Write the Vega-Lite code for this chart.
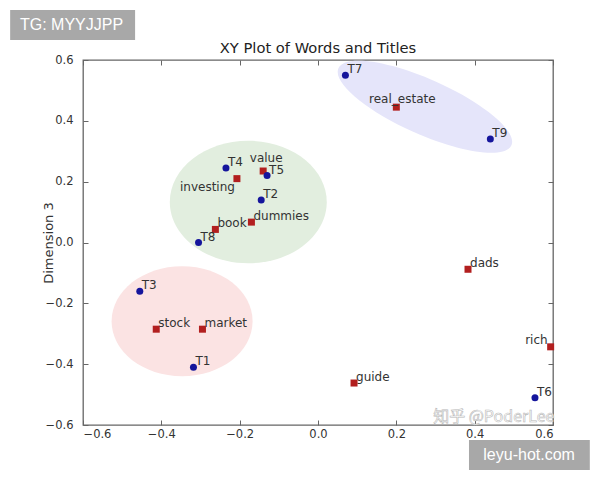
{
  "$schema": "https://vega.github.io/schema/vega-lite/v6.json",
  "width": 470,
  "height": 365,
  "autosize": "none",
  "padding": {"left": 83, "top": 60, "right": 47, "bottom": 55},
  "background": "white",
  "title": {"text": "XY Plot of Words and Titles", "font": "DejaVu Sans", "fontSize": 14.7, "fontWeight": "normal", "color": "#222222", "anchor": "middle", "frame": "group", "baseline": "alphabetic", "offset": 7, "dy": 65},
  "config": {
    "font": "DejaVu Sans",
    "view": {"stroke": "#666666", "strokeWidth": 1.3},
    "axis": {"grid": false, "domain": false, "tickColor": "#666666", "tickWidth": 1, "tickSize": -5, "labelColor": "#333333", "labelFont": "DejaVu Sans", "labelFontSize": 11.5, "titleFont": "DejaVu Sans", "titleFontSize": 13, "titleFontWeight": "normal", "titleColor": "#333333"}
  },
  "datasets": {
    "points": [
      {"label": "T1", "kind": "title", "x": -0.318, "y": -0.41},
      {"label": "T2", "kind": "title", "x": -0.145, "y": 0.14},
      {"label": "T3", "kind": "title", "x": -0.455, "y": -0.16},
      {"label": "T4", "kind": "title", "x": -0.235, "y": 0.245},
      {"label": "T5", "kind": "title", "x": -0.13, "y": 0.22},
      {"label": "T6", "kind": "title", "x": 0.554, "y": -0.51},
      {"label": "T7", "kind": "title", "x": 0.07, "y": 0.55},
      {"label": "T8", "kind": "title", "x": -0.305, "y": 0.0},
      {"label": "T9", "kind": "title", "x": 0.44, "y": 0.34},
      {"label": "book", "kind": "word", "x": -0.262, "y": 0.043},
      {"label": "dads", "kind": "word", "x": 0.383, "y": -0.088},
      {"label": "dummies", "kind": "word", "x": -0.17, "y": 0.067},
      {"label": "guide", "kind": "word", "x": 0.092, "y": -0.462},
      {"label": "investing", "kind": "word", "x": -0.207, "y": 0.21},
      {"label": "market", "kind": "word", "x": -0.295, "y": -0.285},
      {"label": "real_estate", "kind": "word", "x": 0.2, "y": 0.445},
      {"label": "rich", "kind": "word", "x": 0.594, "y": -0.343},
      {"label": "stock", "kind": "word", "x": -0.413, "y": -0.285},
      {"label": "value", "kind": "word", "x": -0.14, "y": 0.235}
    ],
    "ellipses": [
      {"group": "red", "x": -0.347, "y": -0.259},
      {"group": "green", "x": -0.178, "y": 0.133},
      {"group": "blue", "x": 0.273, "y": 0.446}
    ]
  },
  "resolve": {"axis": {"x": "independent", "y": "independent"}},
  "layer": [
    {
      "data": {"name": "ellipses"},
      "transform": [{"filter": "datum.group === 'red'"}],
      "mark": {"type": "point", "shape": "M 1 0 C 1 0.4308 0.5523 0.78 0 0.78 C -0.5523 0.78 -1 0.4308 -1 0 C -1 -0.4308 -0.5523 -0.78 0 -0.78 C 0.5523 -0.78 1 -0.4308 1 0 Z", "size": 19881, "filled": true, "color": "#fbe3e3", "opacity": 1, "strokeWidth": 0, "clip": true},
      "encoding": {
        "x": {"field": "x", "type": "quantitative", "scale": {"domain": [-0.6, 0.6], "nice": false, "zero": false}, "axis": {"orient": "bottom", "values": [-0.6, -0.4, -0.2, 0, 0.2, 0.4, 0.6], "format": ".1f", "title": null, "labelPadding": 8}},
        "y": {"field": "y", "type": "quantitative", "scale": {"domain": [-0.6, 0.6], "nice": false, "zero": false}, "axis": {"orient": "left", "values": [-0.6, -0.4, -0.2, 0, 0.2, 0.4, 0.6], "format": ".1f", "title": "Dimension 3", "labelPadding": 15, "titlePadding": -10}}
      }
    },
    {
      "data": {"name": "ellipses"},
      "transform": [{"filter": "datum.group === 'green'"}],
      "mark": {"type": "point", "shape": "M 1 0 C 1 0.4308 0.5523 0.78 0 0.78 C -0.5523 0.78 -1 0.4308 -1 0 C -1 -0.4308 -0.5523 -0.78 0 -0.78 C 0.5523 -0.78 1 -0.4308 1 0 Z", "size": 24649, "filled": true, "color": "#e2eedf", "opacity": 1, "strokeWidth": 0, "clip": true},
      "encoding": {
        "x": {"field": "x", "type": "quantitative", "axis": null},
        "y": {"field": "y", "type": "quantitative", "axis": null}
      }
    },
    {
      "data": {"name": "ellipses"},
      "transform": [{"filter": "datum.group === 'blue'"}],
      "mark": {"type": "point", "shape": "M 1 0 C 1 0.1602 0.5523 0.29 0 0.29 C -0.5523 0.29 -1 0.1602 -1 0 C -1 -0.1602 -0.5523 -0.29 0 -0.29 C 0.5523 -0.29 1 -0.1602 1 0 Z", "size": 35872, "angle": 24, "filled": true, "color": "#e5e5fa", "opacity": 1, "strokeWidth": 0, "clip": true},
      "encoding": {
        "x": {"field": "x", "type": "quantitative", "axis": null},
        "y": {"field": "y", "type": "quantitative", "axis": null}
      }
    },
    {
      "data": {"name": "points"},
      "transform": [{"filter": "datum.kind === 'word'"}],
      "mark": {"type": "point", "shape": "square", "size": 49, "filled": true, "color": "#b21f1f", "opacity": 1},
      "encoding": {
        "x": {"field": "x", "type": "quantitative", "axis": null},
        "y": {"field": "y", "type": "quantitative", "axis": null}
      }
    },
    {
      "data": {"name": "points"},
      "transform": [{"filter": "datum.kind === 'title'"}],
      "mark": {"type": "point", "shape": "circle", "size": 49, "filled": true, "color": "#15159c", "opacity": 1},
      "encoding": {
        "x": {"field": "x", "type": "quantitative", "axis": {"orient": "top", "values": [-0.6, -0.4, -0.2, 0, 0.2, 0.4, 0.6], "labels": false, "title": null}},
        "y": {"field": "y", "type": "quantitative", "axis": {"orient": "right", "values": [-0.6, -0.4, -0.2, 0, 0.2, 0.4, 0.6], "labels": false, "title": null}}
      }
    },
    {
      "data": {"name": "points"},
      "transform": [{"filter": "indexof(['value', 'real_estate', 'investing', 'rich'], datum.label) < 0"}],
      "mark": {"type": "text", "align": "left", "baseline": "alphabetic", "dx": 2, "dy": -2, "fontSize": 12, "font": "DejaVu Sans", "color": "#333333"},
      "encoding": {
        "x": {"field": "x", "type": "quantitative", "axis": null},
        "y": {"field": "y", "type": "quantitative", "axis": null},
        "text": {"field": "label"}
      }
    },
    {
      "data": {"name": "points"},
      "transform": [{"filter": "datum.label === 'value'"}],
      "mark": {"type": "text", "align": "center", "baseline": "alphabetic", "dx": 3, "dy": -9, "fontSize": 12, "font": "DejaVu Sans", "color": "#333333"},
      "encoding": {
        "x": {"field": "x", "type": "quantitative", "axis": null},
        "y": {"field": "y", "type": "quantitative", "axis": null},
        "text": {"field": "label"}
      }
    },
    {
      "data": {"name": "points"},
      "transform": [{"filter": "datum.label === 'real_estate'"}],
      "mark": {"type": "text", "align": "center", "baseline": "alphabetic", "dx": 6, "dy": -4, "fontSize": 12, "font": "DejaVu Sans", "color": "#333333"},
      "encoding": {
        "x": {"field": "x", "type": "quantitative", "axis": null},
        "y": {"field": "y", "type": "quantitative", "axis": null},
        "text": {"field": "label"}
      }
    },
    {
      "data": {"name": "points"},
      "transform": [{"filter": "datum.label === 'investing'"}],
      "mark": {"type": "text", "align": "right", "baseline": "alphabetic", "dx": -2, "dy": 12, "fontSize": 12, "font": "DejaVu Sans", "color": "#333333"},
      "encoding": {
        "x": {"field": "x", "type": "quantitative", "axis": null},
        "y": {"field": "y", "type": "quantitative", "axis": null},
        "text": {"field": "label"}
      }
    },
    {
      "data": {"name": "points"},
      "transform": [{"filter": "datum.label === 'rich'"}],
      "mark": {"type": "text", "align": "right", "baseline": "alphabetic", "dx": -3, "dy": -3, "fontSize": 12, "font": "DejaVu Sans", "color": "#333333"},
      "encoding": {
        "x": {"field": "x", "type": "quantitative", "axis": null},
        "y": {"field": "y", "type": "quantitative", "axis": null},
        "text": {"field": "label"}
      }
    },
    {
      "data": {"values": [{}]},
      "mark": {"type": "text", "text": "知乎 @PoderLee", "align": "left", "baseline": "middle", "font": "Noto Sans CJK SC", "fontSize": 16, "fill": "#ffffff", "stroke": "#b8b8b8", "strokeWidth": 0.6},
      "encoding": {
        "x": {"datum": 0.294, "type": "quantitative", "axis": null},
        "y": {"datum": -0.574, "type": "quantitative", "axis": null}
      }
    },
    {
      "data": {"values": [{}]},
      "mark": {"type": "rect", "color": "#a8a8a8", "opacity": 1},
      "encoding": {
        "x": {"datum": -0.786, "type": "quantitative", "axis": null},
        "x2": {"datum": -0.467},
        "y": {"datum": 0.764, "type": "quantitative", "axis": null},
        "y2": {"datum": 0.666}
      }
    },
    {
      "data": {"values": [{}]},
      "mark": {"type": "text", "text": "TG: MYYJJPP", "align": "left", "baseline": "middle", "font": "Liberation Sans", "fontSize": 16, "color": "#ffffff"},
      "encoding": {
        "x": {"datum": -0.761, "type": "quantitative", "axis": null},
        "y": {"datum": 0.715, "type": "quantitative", "axis": null}
      }
    },
    {
      "data": {"values": [{}]},
      "mark": {"type": "rect", "color": "#a8a8a8", "opacity": 1},
      "encoding": {
        "x": {"datum": 0.3855, "type": "quantitative", "axis": null},
        "x2": {"datum": 0.694},
        "y": {"datum": -0.649, "type": "quantitative", "axis": null},
        "y2": {"datum": -0.748}
      }
    },
    {
      "data": {"values": [{}]},
      "mark": {"type": "text", "text": "leyu-hot.com", "align": "center", "baseline": "middle", "font": "Liberation Sans", "fontSize": 16, "color": "#ffffff"},
      "encoding": {
        "x": {"datum": 0.539, "type": "quantitative", "axis": null},
        "y": {"datum": -0.698, "type": "quantitative", "axis": null}
      }
    }
  ]
}
